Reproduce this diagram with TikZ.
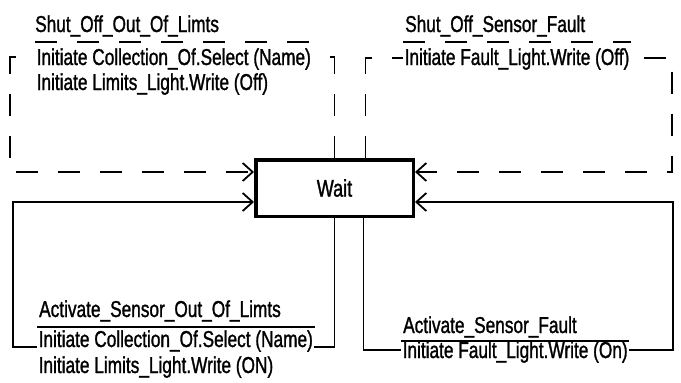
\documentclass[tikz,border=0pt]{standalone}
\usepackage{fontspec}
\setmainfont{Liberation Sans}[FakeStretch=0.75, FakeBold=1.2]
\usepackage{tikz}
\usetikzlibrary{arrows.meta,positioning}
\tikzset{
  state-box/.style={draw=black, line width=3.5pt, minimum width=157.5pt, minimum height=56.5pt,
    inner sep=0pt, font=\fontsize{24}{26}\selectfont},
  trans-line/.style={line width=1.5pt},
  trans-dash/.style={trans-line, dash pattern=on 22pt off 20pt},
  trans-arrow/.style={-{Straight Barb[length=10pt,width=18pt,line width=1.8pt]}},
  trans-event/.style={font=\fontsize{23}{25}\selectfont, inner sep=0pt},
  trans-action/.style={font=\fontsize{23}{25}\selectfont, inner sep=1.5pt, fill=white}
}

\begin{document}
\begin{tikzpicture}[x=1pt, y=-1pt]
  \useasboundingbox (0,0) rectangle (681,383);

  % Wait state
  \node[state-box] (wait) at (334.5,188) {Wait};

  % loop corners
  \coordinate (tl-a) at (334.5,57);  \coordinate (tl-b) at (10,57);   \coordinate (tl-c) at (10,172);
  \coordinate (tr-a) at (365.5,58);  \coordinate (tr-b) at (672,58);  \coordinate (tr-c) at (672,172);
  \coordinate (bl-a) at (334.5,347); \coordinate (bl-b) at (13,347);  \coordinate (bl-c) at (13,202);
  \coordinate (br-a) at (363.5,350); \coordinate (br-b) at (673,350); \coordinate (br-c) at (673,202);

  % Shut off out of limits (dashed)
  \draw[trans-dash, trans-arrow] (wait.north) -- (tl-a) -- (tl-b) -- (tl-c) -- ([yshift=16pt]wait.west);
  % Shut off sensor fault (dashed)
  \draw[trans-dash, trans-arrow] ([xshift=31pt]wait.north) -- (tr-a) -- (tr-b) -- (tr-c) -- ([yshift=16pt]wait.east);
  % Activate sensor out of limits
  \draw[trans-line, trans-arrow] (wait.south) -- (bl-a) -- (bl-b) -- (bl-c) -- ([yshift=-14pt]wait.west);
  % Activate sensor fault
  \draw[trans-line, trans-arrow] ([xshift=29pt]wait.south) -- (br-a) -- (br-b) -- (br-c) -- ([yshift=-14pt]wait.east);

  % labels, top left
  \node[trans-event, anchor=base west] (shutlim) at (35,32) {Shut\_Off\_Out\_Of\_Limts};
  \node[trans-action, anchor=base west] (shutlim-a1) at (35,65) {Initiate Collection\_Of.Select (Name)};
  \node[trans-action, anchor=base west] (shutlim-a2) at (35,90) {Initiate Limits\_Light.Write (Off)};
  \draw[trans-dash] ([yshift=23pt]shutlim-a1.base west) -- ([yshift=23pt]shutlim-a1.base east);

  % labels, top right
  \node[trans-event, anchor=base west] (shutflt) at (405,32) {Shut\_Off\_Sensor\_Fault};
  \node[trans-action, anchor=base west] (shutflt-a1) at (403,65) {Initiate Fault\_Light.Write (Off)};
  \draw[trans-dash] ([yshift=23pt]shutflt-a1.base west) -- ([yshift=23pt]shutflt-a1.base east);

  % labels, bottom left
  \node[trans-event, anchor=base west] (actlim) at (39,317) {Activate\_Sensor\_Out\_Of\_Limts};
  \node[trans-action, anchor=base west] (actlim-a1) at (37,347) {Initiate Collection\_Of.Select (Name)};
  \node[trans-action, anchor=base west] (actlim-a2) at (37,373) {Initiate Limits\_Light.Write (ON)};
  \draw[trans-line] ([yshift=20pt]actlim-a1.base west) -- ([yshift=20pt]actlim-a1.base east);

  % labels, bottom right
  \node[trans-event, anchor=base west] (actflt) at (403,333) {Activate\_Sensor\_Fault};
  \node[trans-action, anchor=base west] (actflt-a1) at (401,358) {Initiate Fault\_Light.Write (On)};
  \draw[trans-line] ([yshift=17pt]actflt-a1.base west) -- ([yshift=17pt]actflt-a1.base east);
\end{tikzpicture}
\end{document}
